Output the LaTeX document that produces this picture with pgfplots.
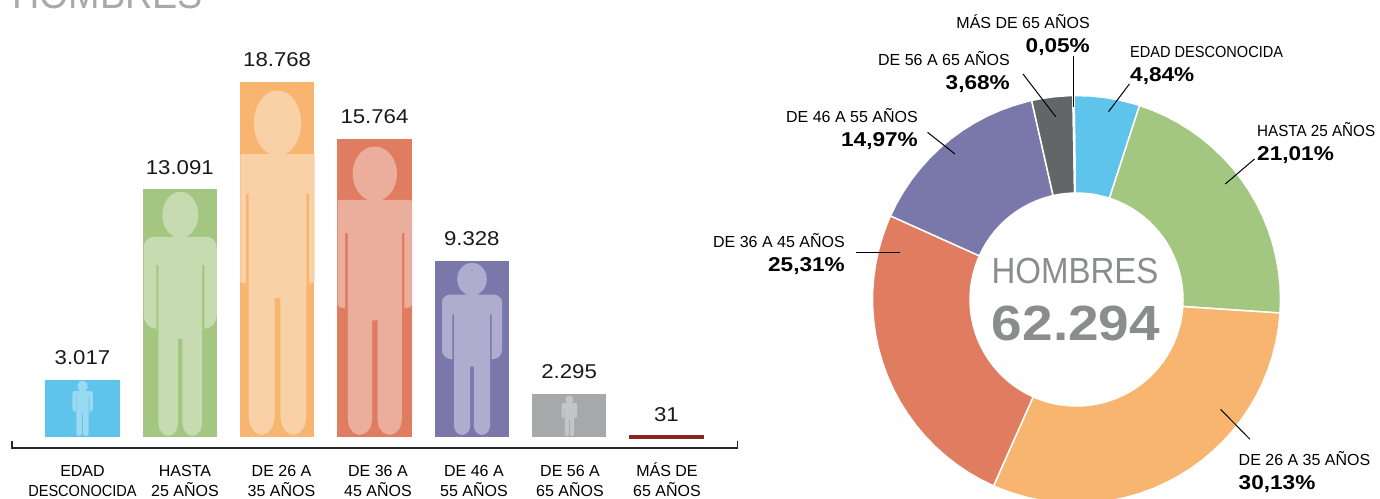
\documentclass[border=0pt]{standalone}
\usepackage{fontspec}
\setmainfont{Liberation Sans}
\newfontfamily\numfont[FakeStretch=1.11]{Liberation Sans}
\newfontfamily\pctfont[FakeStretch=1.13]{Liberation Sans}
\newfontfamily\narrowfont[FakeStretch=0.91]{Liberation Sans}
\newfontfamily\lessfont[FakeStretch=0.95]{Liberation Sans}
\usepackage{pgfplots}
\usepackage{pgfplotstable}
\pgfplotsset{compat=1.18}

\definecolor{cblue}{HTML}{5EC4EC}
\definecolor{cgreen}{HTML}{A3C680}
\definecolor{corange}{HTML}{F8B56F}
\definecolor{cred}{HTML}{E07C5F}
\definecolor{cpurple}{HTML}{7A78AB}
\definecolor{cgray}{HTML}{A7A8AA}
\definecolor{cdark}{HTML}{646567}
\definecolor{cmaroon}{HTML}{8B2323}
\definecolor{fblue}{HTML}{99D9F2}
\definecolor{fgreen}{HTML}{C6DBB0}
\definecolor{forange}{HTML}{F8D1A6}
\definecolor{fred}{HTML}{ECAE9C}
\definecolor{fpurple}{HTML}{AFADCE}
\definecolor{fgray}{HTML}{C4C5C6}
\definecolor{titlegray}{HTML}{A7A9AB}
\definecolor{centergray}{HTML}{8A8C8E}

% silhouette, u across (-1..1), v down (0..1)
\pgfplotstableread{
u v
0.169 .183
.2465 .1763
.317 .1668
.378 .1551
.427 .1415
.463 .1265
.485 .1105
.493 .094
.485 .0775
.463 .0615
.427 .0465
.378 .0329
.317 .0212
.2465 .0117
.169 .0047
.086 .0004
0 0
-.086 .0004
-.169 .0047
-.2465 .0117
-.317 .0212
-.378 .0329
-.427 .0465
-.463 .0615
-.485 .0775
-.493 .094
-.485 .1105
-.463 .1265
-.427 .1415
-.378 .1551
-.317 .1668
-.2465 .1763
-.169 .183
-.169 .184
-.73 .184
-.83 .187
-.92 .197
-.98 .21
-1 .226
-1 .50
-.98 .525
-.90 .545
-.79 .556
-.658 .561
-.658 .299
-.60 .299
-.60 .948
-.564 .974
-.465 .993
-.33 1
-.195 .993
-.096 .974
-.06 .948
-.06 .602
.06 .602
.06 .948
.096 .974
.195 .993
.33 1
.465 .993
.564 .974
.60 .948
.60 .299
.658 .299
.658 .561
.79 .556
.90 .545
.98 .525
1 .50
1 .226
.98 .21
.92 .197
.83 .187
.73 .184
.169 .184
}\figshape

% centre x, half width, top, bottom, colour
\newcommand\persona[5]{%
  \addplot[fill=#5,draw=none,forget plot] table[
    x expr={max(min(#1+\thisrow{u}*#2,#1+37.2),#1-37.2)},
    y expr={#3+\thisrow{v}*(#4-#3)}] {\figshape};
}
\newcommand\labR[4]{%
  \node[anchor=base east,inner sep=0pt,font=\fontsize{16}{19}\selectfont] at (axis cs:#1,#2) {#3};
  \node[anchor=base east,inner sep=0pt,font=\pctfont\fontsize{20}{24}\selectfont\bfseries] at (axis cs:#1,#2+24) {#4};
}
\newcommand\labL[4]{%
  \node[anchor=base west,inner sep=0pt,font=\fontsize{16}{19}\selectfont] at (axis cs:#1,#2) {#3};
  \node[anchor=base west,inner sep=0pt,font=\pctfont\fontsize{20}{24}\selectfont\bfseries] at (axis cs:#1,#2+24) {#4};
}

\begin{document}
\begin{tikzpicture}
\path[use as bounding box] (0,0) rectangle (1380pt,498pt);
\clip (0,0) rectangle (1380pt,498pt);

% bars
\begin{axis}[
  at={(12pt,50pt)}, anchor=south west,
  scale only axis, width=725.5pt, height=389.3pt,
  xmin=-0.7243, xmax=6.730, ymin=-581.6, ymax=20000,
  clip=false,
  axis y line=none,
  axis x line=bottom,
  x axis line style={draw=none,-},
  xtick={0,1.053,2.045,3.036,4.022,5.009,6.005},
  xticklabels={
    {\vphantom{Á}EDAD\\{\narrowfont DESCONOCIDA}},{\vphantom{Á}HASTA\\25 AÑOS},{\vphantom{Á}DE 26 A\\35 AÑOS},
    {\vphantom{Á}DE 36 A\\45 AÑOS},{\vphantom{Á}DE 46 A\\55 AÑOS},{\vphantom{Á}DE 56 A\\65 AÑOS},{MÁS DE\\65 AÑOS}},
  major tick length=0pt,
  xticklabel style={align=center,inner sep=0pt,anchor=north,yshift=-14pt,
    font=\fontsize{16}{20}\selectfont},
  /pgf/number format/assume math mode=true,
  /pgf/number format/1000 sep={.},
  /pgf/number format/fixed,
  every node near coord/.append style={anchor=base,yshift=15pt,inner sep=0pt,
    font=\numfont\fontsize{20}{24}\selectfont,text=black!90},
  /pgfplots/bar shift=0pt,
  bar width=74.5pt,
]
\addplot[ybar,fill=cblue,draw=none,nodes near coords] coordinates {(0,3017)};
\addplot[ybar,fill=cgreen,draw=none,nodes near coords] coordinates {(1,13091)};
\addplot[ybar,fill=corange,draw=none,nodes near coords] coordinates {(2,18768)};
\addplot[ybar,fill=cred,draw=none,nodes near coords] coordinates {(3,15764)};
\addplot[ybar,fill=cpurple,draw=none,nodes near coords] coordinates {(4,9328)};
\addplot[ybar,fill=cgray,draw=none,nodes near coords] coordinates {(5,2295)};
\addplot[ybar,fill=cmaroon,draw=cmaroon,line width=3pt,bar width=72pt,nodes near coords] coordinates {(6,31)};
\addplot[black!85,line width=1.2pt] coordinates {(-0.7243,-210) (-0.7243,-581.6) (6.730,-581.6) (6.730,-210)};
\end{axis}

% donut, polar coordinates with centre at (1076.5,298.5) from the top left
\begin{axis}[
  at={(866.5pt,-11.5pt)}, anchor=south west,
  scale only axis, width=420pt, height=420pt,
  xmin=-210, xmax=210, ymin=-210, ymax=210,
  hide axis, clip=false,
  every axis plot/.append style={draw=white,line width=1.5pt,data cs=polar},
]
\addplot[fill=cblue] coordinates {(90.7,204)(86,204)(82,204)(78,204)(74,204)(72,204)
  (72,106.5)(74,106.5)(78,106.5)(82,106.5)(86,106.5)(90.7,106.5)} -- cycle;
\addplot[fill=cgreen] coordinates {(72,204)(68,204)(64,204)(60,204)(56,204)(52,204)(48,204)(44,204)(40,204)(36,204)(32,204)(28,204)(24,204)(20,204)(16,204)(12,204)(8,204)(4,204)(0,204)(-3.8,204)
  (-3.8,106.5)(0,106.5)(4,106.5)(8,106.5)(12,106.5)(16,106.5)(20,106.5)(24,106.5)(28,106.5)(32,106.5)(36,106.5)(40,106.5)(44,106.5)(48,106.5)(52,106.5)(56,106.5)(60,106.5)(64,106.5)(68,106.5)(72,106.5)} -- cycle;
\addplot[fill=corange] coordinates {(-3.8,204)(-8,204)(-12,204)(-16,204)(-20,204)(-24,204)(-28,204)(-32,204)(-36,204)(-40,204)(-44,204)(-48,204)(-52,204)(-56,204)(-60,204)(-64,204)(-68,204)(-72,204)(-76,204)(-80,204)(-84,204)(-88,204)(-92,204)(-96,204)(-100,204)(-104,204)(-108,204)(-112,204)(-114,204)
  (-114,106.5)(-112,106.5)(-108,106.5)(-104,106.5)(-100,106.5)(-96,106.5)(-92,106.5)(-88,106.5)(-84,106.5)(-80,106.5)(-76,106.5)(-72,106.5)(-68,106.5)(-64,106.5)(-60,106.5)(-56,106.5)(-52,106.5)(-48,106.5)(-44,106.5)(-40,106.5)(-36,106.5)(-32,106.5)(-28,106.5)(-24,106.5)(-20,106.5)(-16,106.5)(-12,106.5)(-8,106.5)(-3.8,106.5)} -- cycle;
\addplot[fill=cred] coordinates {(-114,204)(-118,204)(-122,204)(-126,204)(-130,204)(-134,204)(-138,204)(-142,204)(-146,204)(-150,204)(-154,204)(-158,204)(-162,204)(-166,204)(-170,204)(-174,204)(-178,204)(-182,204)(-186,204)(-190,204)(-194,204)(-198,204)(-202,204)(-204.2,204)
  (-204.2,106.5)(-202,106.5)(-198,106.5)(-194,106.5)(-190,106.5)(-186,106.5)(-182,106.5)(-178,106.5)(-174,106.5)(-170,106.5)(-166,106.5)(-162,106.5)(-158,106.5)(-154,106.5)(-150,106.5)(-146,106.5)(-142,106.5)(-138,106.5)(-134,106.5)(-130,106.5)(-126,106.5)(-122,106.5)(-118,106.5)(-114,106.5)} -- cycle;
\addplot[fill=cpurple] coordinates {(-204.2,204)(-208,204)(-212,204)(-216,204)(-220,204)(-224,204)(-228,204)(-232,204)(-236,204)(-240,204)(-244,204)(-248,204)(-252,204)(-256,204)(-257.3,204)
  (-257.3,106.5)(-256,106.5)(-252,106.5)(-248,106.5)(-244,106.5)(-240,106.5)(-236,106.5)(-232,106.5)(-228,106.5)(-224,106.5)(-220,106.5)(-216,106.5)(-212,106.5)(-208,106.5)(-204.2,106.5)} -- cycle;
\addplot[fill=cdark] coordinates {(-257.3,204)(-260,204)(-264,204)(-268,204)(-269,204)
  (-269,106.5)(-268,106.5)(-264,106.5)(-260,106.5)(-257.3,106.5)} -- cycle;
\addplot[fill=cmaroon] coordinates {(-269,204)(-269.3,204)(-269.3,106.5)(-269,106.5)} -- cycle;
\end{axis}

% figures, texts and leaders in image pixels
\begin{axis}[
  at={(0pt,0pt)}, anchor=south west,
  scale only axis, width=1380pt, height=498pt,
  xmin=0, xmax=1380, ymin=0, ymax=498, y dir=reverse,
  hide axis, clip=false,
]
\persona{82.6}{10.2}{381}{436}{fblue}
\persona{180.3}{36.5}{192}{436}{fgreen}
\persona{277.5}{48}{90.7}{435}{forange}
\persona{374.8}{45}{146.7}{435}{fred}
\persona{472}{30}{263}{435}{fpurple}
\persona{569.4}{7.7}{395.7}{436}{fgray}

\addplot[black,line width=1pt] coordinates {(1073.5,56)(1073.5,106.5)};
\addplot[black,line width=1pt] coordinates {(1023,74)(1055.7,116.7)};
\addplot[black,line width=1pt] coordinates {(1129.4,84)(1108.5,111.7)};
\addplot[black,line width=1pt] coordinates {(1254.5,159)(1225.3,184)};
\addplot[black,line width=1pt] coordinates {(927.5,132.3)(955,154)};
\addplot[black,line width=1pt] coordinates {(856,252.7)(899.7,252.7)};
\addplot[black,line width=1pt] coordinates {(1220.5,409.3)(1250,439.3)};

\labR{1090}{28}{MÁS DE 65 AÑOS}{0,05\%}
\labL{1130}{57.5}{{\narrowfont EDAD DESCONOCIDA}}{4,84\%}
\labR{1010}{65}{DE 56 A 65 AÑOS}{3,68\%}
\labL{1257}{136}{{\lessfont HASTA 25 AÑOS}}{21,01\%}
\labR{918}{122}{DE 46 A 55 AÑOS}{14,97\%}
\labR{845}{247.3}{DE 36 A 45 AÑOS}{25,31\%}
\labL{1238.5}{465}{DE 26 A 35 AÑOS}{30,13\%}

\node[anchor=base,inner sep=0pt,text=centergray,font=\narrowfont\fontsize{36.3}{40}\selectfont] at (axis cs:1075,283.3) {HOMBRES};
\node[anchor=base,inner sep=0pt,text=centergray,font=\numfont\fontsize{49.5}{54}\selectfont\bfseries] at (axis cs:1076,340) {62.294};
\node[anchor=base west,inner sep=0pt,text=titlegray,font=\narrowfont\fontsize{41.5}{45}\selectfont] at (axis cs:12,8) {HOMBRES};
\end{axis}
\end{tikzpicture}
\end{document}
